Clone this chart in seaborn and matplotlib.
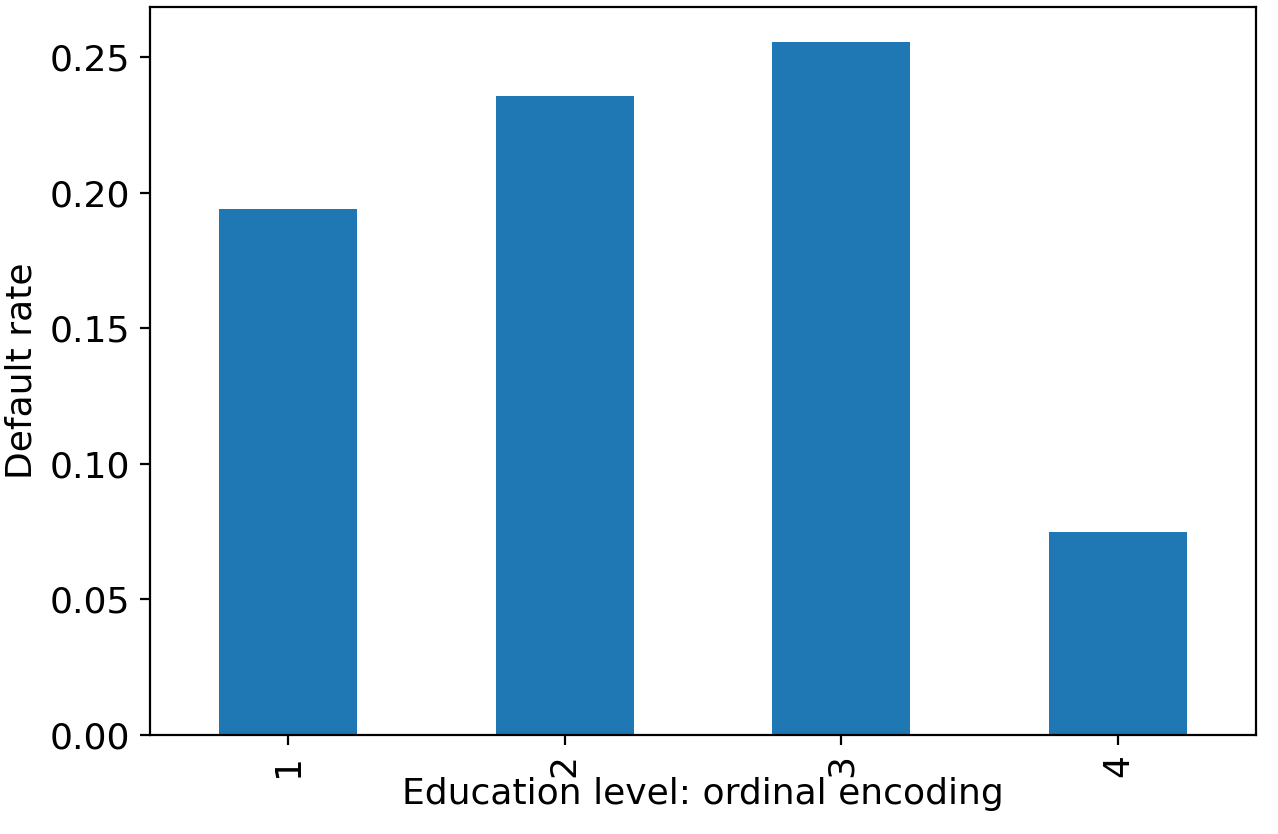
import matplotlib
matplotlib.use("Agg")
import matplotlib.pyplot as plt
import seaborn as sns
import pandas as pd

education_level = ["1", "2", "3", "4"]
default_rate = [0.194, 0.2357, 0.2555, 0.0747]

df = pd.DataFrame({"education": education_level, "rate": default_rate})

plt.rcParams["font.size"] = 13
fig = plt.figure(figsize=(6.39, 4.17), dpi=200)
ax = fig.add_axes([150 / 1278, 1 - 735 / 834, 1106 / 1278, 728 / 834])
sns.barplot(data=df, x="education", y="rate", color="#1f77b4", saturation=1, width=0.5, ax=ax)
ax.set_xlim(-0.5, 3.5)
ax.set_ylim(0, 0.2685)
ax.set_yticks([0, 0.05, 0.10, 0.15, 0.20, 0.25])
ax.set_yticklabels(["0.00", "0.05", "0.10", "0.15", "0.20", "0.25"])
plt.setp(ax.get_xticklabels(), rotation=90)
ax.set_xlabel("Education level: ordinal encoding", labelpad=0)
ax.set_ylabel("Default rate")
fig.savefig("out.png", dpi=200)
